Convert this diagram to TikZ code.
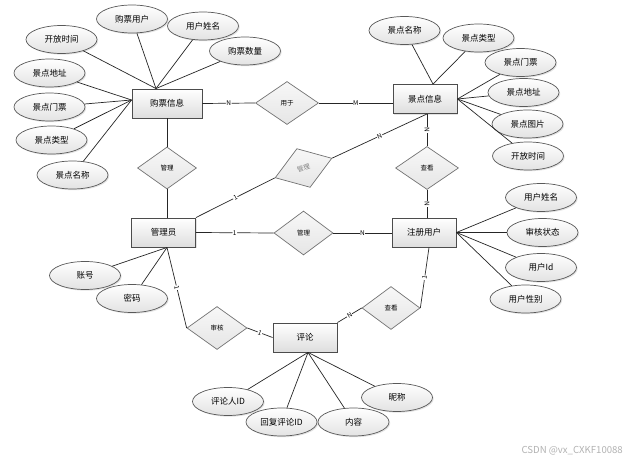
\documentclass[tikz,border=0pt]{standalone}
\usepackage{fontspec}
\setmainfont{Noto Sans CJK SC}
\usetikzlibrary{shapes.geometric,shadows,calc}
\begin{document}
\begin{tikzpicture}[x=1pt,y=-1pt,
 shd/.style={drop shadow={shadow xshift=1.2pt,shadow yshift=-1.2pt,opacity=0.22}},
 ent/.style={shd,draw=black!70,line width=0.9pt,top color=white,bottom color=black!13,
   minimum width=64pt,minimum height=29pt,inner sep=0pt,font=\fontsize{8.5}{9}\selectfont},
 attr/.style={shd,ellipse,draw=black!65,line width=0.7pt,top color=white,bottom color=black!11,
   minimum width=71pt,minimum height=28pt,inner sep=0pt,font=\fontsize{8.5}{9}\selectfont},
 rel/.style={diamond,draw=black!55,line width=0.7pt,top color=black!3,bottom color=black!10,
   minimum width=60pt,minimum height=43pt,inner sep=0pt,aspect=1.4,font=\fontsize{6.5}{7}\selectfont},
 lnk/.style={draw=black!85,line width=0.7pt},
 card/.style={fill=white,inner sep=0.5pt,font=\fontsize{6.5}{7}\selectfont,sloped,midway}
]
\useasboundingbox[fill=white] (0,0) rectangle (631,462);

% entities
\node[ent,minimum width=70pt] (gp) at (167,103.5) {购票信息};
\node[ent] (jd) at (425,99) {景点信息};
\node[ent] (gl) at (163.5,232.5) {管理员};
\node[ent] (zc) at (424,232.5) {注册用户};
\node[ent] (pl) at (305,337.5) {评论};

% relationships
\node[rel,minimum width=63pt] (yy) at (287,103) {用于};
\node[rel,minimum width=59pt,minimum height=42pt] (gla) at (167,168) {管理};
\node[rel,rotate=19,minimum height=41pt,text=black!50] (glb) at (303.5,168) {管理};
\node[rel,minimum width=63pt] (ck1) at (427,168) {查看};
\node[rel,minimum width=59pt,minimum height=44pt] (glc) at (303.5,233) {管理};
\node[rel] (sh) at (217,328) {审核};
\node[rel,minimum width=58pt] (ck2) at (391,308) {查看};

% attribute anchor points
\coordinate (gpT) at ([xshift=-11pt]gp.north);
\coordinate (gpL) at ([yshift=3.5pt]gp.west);
\coordinate (jdT) at ([xshift=8pt]jd.north);
\coordinate (glB) at ([xshift=3.5pt]gl.south);
\coordinate (plB) at ([xshift=3pt]pl.south);

% attributes of 购票信息
\node[attr] (a1) at (61.5,39.5) {开放时间};
\node[attr] (a2) at (132,19) {购票用户};
\node[attr] (a3) at (203,26) {用户姓名};
\node[attr] (a4) at (245,51) {购票数量};
\node[attr] (a5) at (49.5,73) {景点地址};
\node[attr] (a6) at (49.5,107) {景点门票};
\node[attr] (a7) at (51.5,140) {景点类型};
\node[attr] (a8) at (72.5,175) {景点名称};
\foreach \n in {a1,a2,a3,a4} \draw[lnk] (gpT) -- (\n);
\foreach \n in {a5,a6,a7,a8} \draw[lnk] (gpL) -- (\n);

% attributes of 景点信息
\node[attr] (b1) at (404.5,30.5) {景点名称};
\node[attr] (b2) at (478.5,38) {景点类型};
\node[attr] (b3) at (520.5,62.5) {景点门票};
\node[attr] (b4) at (523.5,92.5) {景点地址};
\node[attr] (b5) at (527.5,124) {景点图片};
\node[attr] (b6) at (528,156) {开放时间};
\foreach \n in {b1,b2} \draw[lnk] (jdT) -- (\n);
\foreach \n in {b3,b4,b5,b6} \draw[lnk] (jd.east) -- (\n);

% attributes of 注册用户
\node[attr] (c1) at (541,197.5) {用户姓名};
\node[attr] (c2) at (542.5,232.5) {审核状态};
\node[attr] (c3) at (541,267.5) {用户Id};
\node[attr] (c4) at (525.5,299) {用户性别};
\foreach \n in {c1,c2,c3,c4} \draw[lnk] (zc.east) -- (\n);

% attributes of 管理员
\node[attr] (d1) at (85,275.5) {账号};
\node[attr] (d2) at (132,298.5) {密码};
\foreach \n in {d1,d2} \draw[lnk] (glB) -- (\n);

% attributes of 评论
\node[attr] (e1) at (228,401.5) {评论人ID};
\node[attr] (e2) at (281.5,422) {回复评论ID};
\node[attr] (e3) at (353.5,422) {内容};
\node[attr] (e4) at (397,397.5) {昵称};
\foreach \n in {e1,e2,e3,e4} \draw[lnk] (plB) -- (\n);

% relationship connectors
\draw[lnk] (gp.east) -- node[card]{N} (yy.west);
\draw[lnk] (yy.east) -- node[card]{M} (yy.east -| jd.west);
\draw[lnk] (gp.south) -- (gla.north);
\draw[lnk] (gla.south) -- (gl.north -| gla.south);
\draw[lnk] (gl.north east) -- node[card]{1} (glb.west);
\draw[lnk] (glb.east) -- node[card]{N} ([xshift=2pt]jd.south);
\draw[lnk] (ck1.north |- jd.south) -- node[card]{N} (ck1.north);
\draw[lnk] (ck1.south) -- node[card]{N} (ck1.south |- zc.north);
\draw[lnk] (gl.east) -- node[card]{1} (glc.west);
\draw[lnk] (glc.east) -- node[card]{N} (glc.east -| zc.west);
\draw[lnk] (glB) -- node[card]{1} (sh.west);
\draw[lnk] (sh.east) -- node[card]{1} (pl.west);
\draw[lnk] (pl.north east) -- node[card]{N} (ck2.west);
\draw[lnk] (ck2.east) -- node[card]{1} ([xshift=5pt]zc.south);

% watermark
\node[text=black!30,font=\fontsize{9.6}{10}\selectfont,anchor=east,inner sep=0pt] (wm) at (623,451) {CSDN @vx\_CXKF10088};
\end{tikzpicture}
\end{document}
